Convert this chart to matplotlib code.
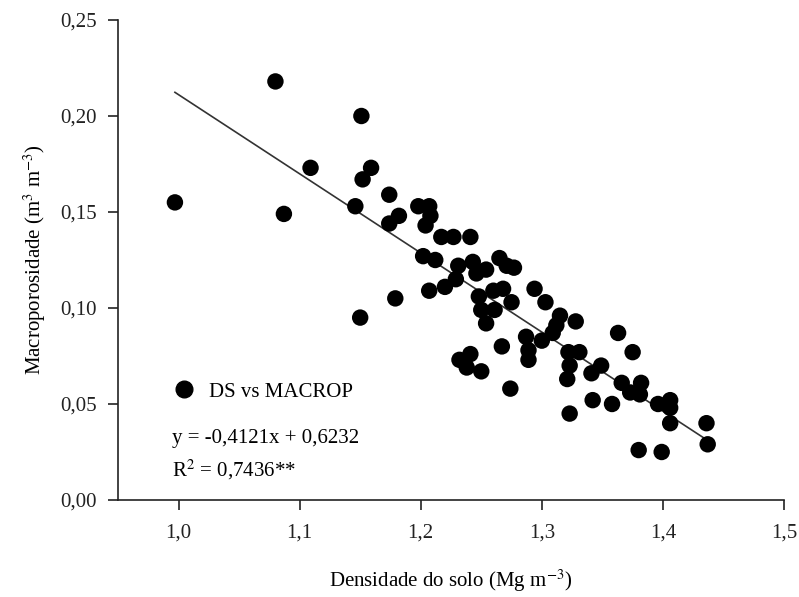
import numpy as np
import matplotlib
matplotlib.use('Agg')
import matplotlib.pyplot as plt
from matplotlib.ticker import FuncFormatter
from matplotlib.lines import Line2D

# densidade do solo (Mg m-3)
ds = [0.997, 1.080, 1.087, 1.109, 1.146, 1.150, 1.151, 1.152, 1.159, 1.174,
      1.174, 1.179, 1.182, 1.198, 1.207, 1.208, 1.204, 1.217, 1.227, 1.241,
      1.202, 1.212, 1.231, 1.243, 1.246, 1.254, 1.229, 1.220, 1.207, 1.248,
      1.250, 1.254, 1.260, 1.268, 1.261, 1.275, 1.265, 1.271, 1.277, 1.294,
      1.303, 1.267, 1.232, 1.241, 1.238, 1.250, 1.274, 1.287, 1.289, 1.289,
      1.300, 1.309, 1.312, 1.315, 1.328, 1.322, 1.331, 1.323, 1.321, 1.323,
      1.341, 1.349, 1.342, 1.358, 1.363, 1.375, 1.366, 1.373, 1.382, 1.381,
      1.396, 1.406, 1.406, 1.406, 1.380, 1.399, 1.436, 1.437]

# macroporosidade (m3 m-3)
macrop = [0.155, 0.218, 0.149, 0.173, 0.153, 0.095, 0.200, 0.167, 0.173, 0.159,
          0.144, 0.105, 0.148, 0.153, 0.153, 0.148, 0.143, 0.137, 0.137, 0.137,
          0.127, 0.125, 0.122, 0.124, 0.118, 0.120, 0.115, 0.111, 0.109, 0.106,
          0.099, 0.092, 0.109, 0.110, 0.099, 0.103, 0.126, 0.122, 0.121, 0.110,
          0.103, 0.080, 0.073, 0.076, 0.069, 0.067, 0.058, 0.085, 0.078, 0.073,
          0.083, 0.087, 0.091, 0.096, 0.093, 0.077, 0.077, 0.070, 0.063, 0.045,
          0.066, 0.070, 0.052, 0.050, 0.087, 0.077, 0.061, 0.056, 0.061, 0.055,
          0.050, 0.052, 0.048, 0.040, 0.026, 0.025, 0.040, 0.029]

slope = -0.4121
intercept = 0.6232

plt.rcParams['font.family'] = ['Liberation Serif', 'DejaVu Serif']
plt.rcParams['mathtext.fontset'] = 'stix'

fig = plt.figure(figsize=(7.99, 5.97), dpi=100)
ax = fig.add_axes([0.1477, 0.1625, 0.8335, 0.804])

ax.scatter(ds, macrop, s=140, color='black', edgecolors='none', zorder=3)

xl = np.array([min(ds), max(ds)])
ax.plot(xl, slope * xl + intercept, color='#333333', lw=1.2, zorder=2)

ax.set_xlim(0.95, 1.5)
ax.set_ylim(0, 0.25)
ax.set_xticks([1.0, 1.1, 1.2, 1.3, 1.4, 1.5])
ax.set_yticks([0.0, 0.05, 0.10, 0.15, 0.20, 0.25])
ax.xaxis.set_major_formatter(FuncFormatter(lambda v, p: ('%.1f' % v).replace('.', ',')))
ax.yaxis.set_major_formatter(FuncFormatter(lambda v, p: ('%.2f' % v).replace('.', ',')))
ax.tick_params(direction='out', length=7, width=1.2, labelsize=15, colors='#222222', pad=10)
ax.tick_params(axis='y', pad=8)

for s in ['top', 'right']:
    ax.spines[s].set_visible(False)
for s in ['left', 'bottom']:
    ax.spines[s].set_linewidth(1.2)
    ax.spines[s].set_color('#222222')

ax.set_xlabel('Densidade do solo (Mg m$^{-3}$)', fontsize=15, labelpad=18)
ax.set_ylabel('Macroporosidade (m$^{3}$ m$^{-3}$)', fontsize=15, labelpad=9)

h = Line2D([], [], marker='o', color='black', ls='none', markersize=12)
ax.legend([h], ['DS vs MACROP'], loc='center left', bbox_to_anchor=(0.056, 0.225),
          frameon=False, fontsize=15, handletextpad=0.7, handlelength=1.0)

ax.text(0.081, 0.128, 'y = -0,4121x + 0,6232', transform=ax.transAxes,
        fontsize=15, va='center', ha='left')
ax.text(0.081, 0.062, 'R$^2$ = 0,7436**', transform=ax.transAxes,
        fontsize=15, va='center', ha='left')

fig.savefig('out.png', dpi=100)
